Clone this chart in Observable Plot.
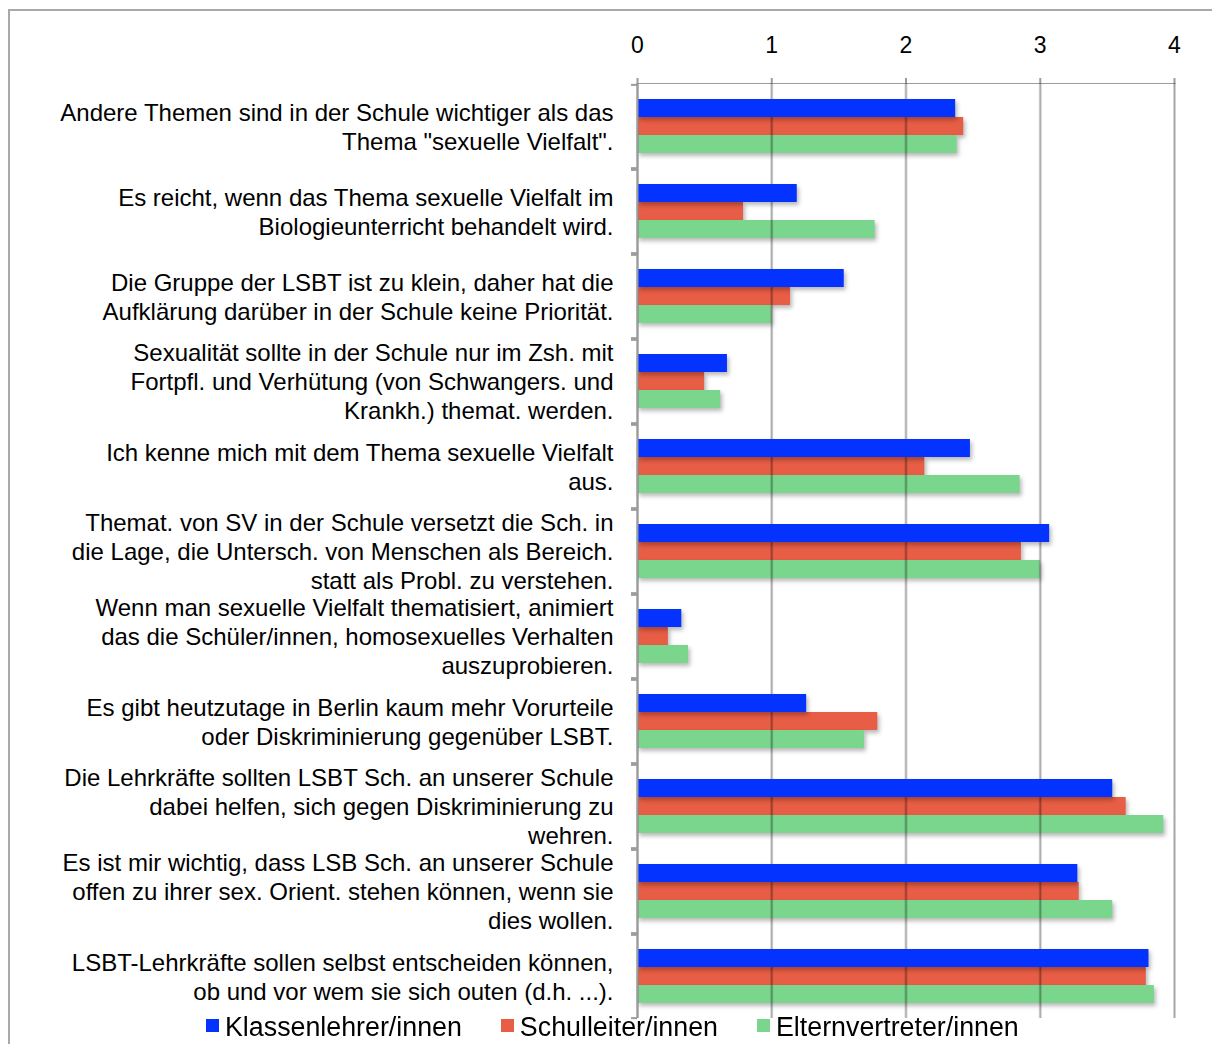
<!DOCTYPE html>
<html><head><meta charset="utf-8">
<script src="https://cdn.jsdelivr.net/npm/d3@7"></script>
<script src="https://cdn.jsdelivr.net/npm/@observablehq/plot@0.6"></script>
<style>
html,body{margin:0;padding:0;background:#fff;overflow:hidden;width:1212px;height:1044px;}
#frame{position:absolute;left:8px;top:9px;width:1300px;height:1100px;border:2px solid #a9a9a9;box-sizing:border-box;}
#chart{position:absolute;left:0;top:0;}
#chart svg text{fill:#000;}
#chart svg g[aria-label="bar"]{filter:drop-shadow(2px 3px 2px rgba(0,0,0,0.28));}
#chart svg g[aria-label^="x-axis"] line,#chart svg g[aria-label^="x-axis"] path{stroke-width:2;}
#legend{position:absolute;left:206px;top:1012px;display:flex;gap:39px;font-family:"Liberation Sans",Arial,sans-serif;font-size:26.8px;color:#000;line-height:30px;}
.item{display:flex;align-items:center;}
.sw{width:13px;height:13px;margin-right:6px;margin-top:-4px;}
</style></head><body>
<div id="frame"></div>
<div id="chart"></div>
<div id="legend"></div>
<script>
const categories = [
  "Andere Themen sind in der Schule wichtiger als das\nThema \"sexuelle Vielfalt\".",
  "Es reicht, wenn das Thema sexuelle Vielfalt im\nBiologieunterricht behandelt wird.",
  "Die Gruppe der LSBT ist zu klein, daher hat die\nAufklärung darüber in der Schule keine Priorität.",
  "Sexualität sollte in der Schule nur im Zsh. mit\nFortpfl. und Verhütung (von Schwangers. und\nKrankh.) themat. werden.",
  "Ich kenne mich mit dem Thema sexuelle Vielfalt\naus.",
  "Themat. von SV in der Schule versetzt die Sch. in\ndie Lage, die Untersch. von Menschen als Bereich.\nstatt als Probl. zu verstehen.",
  "Wenn man sexuelle Vielfalt thematisiert, animiert\ndas die Schüler/innen, homosexuelles Verhalten\nauszuprobieren.",
  "Es gibt heutzutage in Berlin kaum mehr Vorurteile\noder Diskriminierung gegenüber LSBT.",
  "Die Lehrkräfte sollten LSBT Sch. an unserer Schule\ndabei helfen, sich gegen Diskriminierung zu\nwehren.",
  "Es ist mir wichtig, dass LSB Sch. an unserer Schule\noffen zu ihrer sex. Orient. stehen können, wenn sie\ndies wollen.",
  "LSBT-Lehrkräfte sollen selbst entscheiden können,\nob und vor wem sie sich outen (d.h. ...)."
];
const seriesNames = ["Klassenlehrer/innen", "Schulleiter/innen", "Elternvertreter/innen"];
const klassenlehrer   = [2.37, 1.19, 1.54, 0.67, 2.48, 3.07, 0.33, 1.26, 3.54, 3.28, 3.81];
const schulleiter     = [2.43, 0.79, 1.14, 0.50, 2.14, 2.86, 0.23, 1.79, 3.64, 3.29, 3.79];
const elternvertreter = [2.38, 1.77, 1.00, 0.62, 2.85, 3.00, 0.38, 1.69, 3.92, 3.54, 3.85];
const xTicks = [0, 1, 2, 3, 4];

const seriesValues = [klassenlehrer, schulleiter, elternvertreter];
const seriesColors = ["#0433FF", "#E85D45", "#7AD68C"];
const table = categories.flatMap((c, i) =>
  seriesNames.map((s, j) => ({category: c, series: s, value: seriesValues[j][i]})));

const W = 1212, H = 1020, mt = 82, mb = 2, ml = 637, mr = 38;
const padOuter = 0.75;
const facetH = (H - mt - mb) / categories.length;
const step = facetH / (seriesNames.length + 2 * padOuter);
const edge = step * padOuter + step / 2;
const gray = "#9c9c9c";

const barFor = (j) => Plot.barX(table, {
  filter: d => d.series === seriesNames[j],
  x: "value", y: "series", fill: seriesColors[j]
});

const chart = Plot.plot({
  width: W, height: H,
  marginTop: mt, marginBottom: mb, marginLeft: ml, marginRight: mr,
  style: {fontFamily: "'Liberation Sans', Arial, sans-serif", fontSize: "23px", color: gray, background: "transparent", overflow: "visible"},
  facet: {data: table, y: "category"},
  fy: {domain: categories, padding: 0, axis: null},
  y: {domain: seriesNames, paddingInner: 0, paddingOuter: padOuter, axis: null},
  x: {domain: [0, 4], axis: "top", ticks: xTicks, tickSize: 6, tickPadding: 25, tickFormat: d3.format("d"), line: true, label: null},
  marks: [
    barFor(1),
    barFor(2),
    Plot.ruleX(xTicks, {stroke: gray, strokeWidth: 1.8, mixBlendMode: "multiply"}),
    barFor(0),
    Plot.ruleX([0], {stroke: gray, strokeWidth: 2}),
    Plot.ruleY(table, {filter: d => d.series === seriesNames[0], y: "series", x1: d => 0, x2: d => 0, insetLeft: -6, dy: -edge, stroke: gray, strokeWidth: 2}),
    Plot.ruleY(table, {filter: d => d.series === seriesNames[2], y: "series", x1: d => 0, x2: d => 0, insetLeft: -6, dy: edge, stroke: gray, strokeWidth: 2}),
    Plot.text(table, {filter: d => d.series === seriesNames[0], x: d => 0, text: "category", textAnchor: "end", lineAnchor: "middle", dx: -24, fontSize: 24, lineHeight: 29 / 24, fill: "#000"})
  ]
});
document.getElementById("chart").appendChild(chart);

const legend = document.getElementById("legend");
seriesNames.forEach((s, j) => {
  const item = document.createElement("div");
  item.className = "item";
  const sw = document.createElement("span");
  sw.className = "sw";
  sw.style.background = seriesColors[j];
  const t = document.createElement("span");
  t.textContent = s;
  item.appendChild(sw); item.appendChild(t);
  legend.appendChild(item);
});
</script>
</body></html>
